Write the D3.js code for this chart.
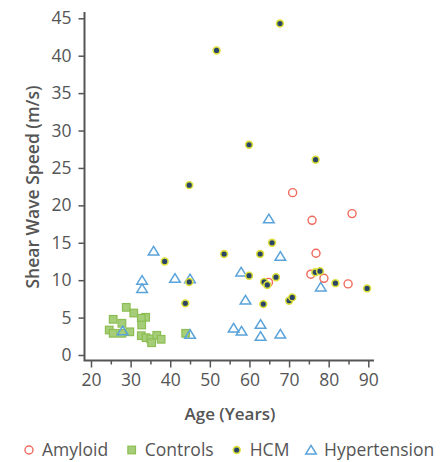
<!DOCTYPE html>
<html>
<head>
<meta charset="utf-8">
<script src="https://cdn.jsdelivr.net/npm/d3@7"></script>
<style>
  body { margin: 0; background: #fff; }
  text { font-family: "Open Sans", sans-serif; fill: #555; }
</style>
</head>
<body>
<svg></svg>
<script>
var width = 448;
var height = 462;

// data: [age, shear wave speed]
var amyloid = [[70.9, 21.7], [75.8, 18.0], [85.9, 18.9], [76.8, 13.6], [64.8, 9.7],
  [75.5, 10.8], [78.8, 10.25], [84.9, 9.5]];
var controls = [[28.9, 6.37], [30.8, 5.61], [33.8, 5.04], [32.7, 4.91], [32.8, 4.01],
  [25.6, 4.77], [27.8, 4.24], [24.6, 3.34], [25.6, 2.9], [27.8, 2.9], [29.8, 3.1],
  [32.7, 2.58], [33.9, 2.31], [35.1, 2.14], [36.6, 2.63], [35.3, 1.64], [37.7, 2.1],
  [43.9, 2.9]];
var hcm = [[67.7, 44.3], [51.7, 40.7], [59.9, 28.1], [76.7, 26.1], [44.8, 22.7],
  [65.7, 15.0], [53.6, 13.5], [62.7, 13.5], [59.9, 10.6], [63.7, 9.76], [64.5, 9.36],
  [66.7, 10.4], [76.6, 11.05], [77.8, 11.2], [81.7, 9.6], [89.7, 8.9], [70.0, 7.26],
  [70.8, 7.7], [63.5, 6.8], [38.6, 12.5], [44.8, 9.76], [43.8, 6.9]];
var hypertension = [[64.9, 18.2], [67.8, 13.2], [57.9, 11.1], [78.0, 9.1], [59.0, 7.35],
  [56.0, 3.6], [58.0, 3.2], [62.8, 4.1], [62.8, 2.5], [67.8, 2.8], [35.8, 13.9],
  [32.9, 10.0], [32.9, 8.9], [41.2, 10.25], [45.0, 10.2], [28.0, 3.25], [45.0, 2.76]];

var xTicks = [20, 30, 40, 50, 60, 70, 80, 90];
var xMinorTicks = [25, 35, 45, 55, 65, 75, 85];
var yTicks = [0, 5, 10, 15, 20, 25, 30, 35, 40, 45];
var groups = ["Amyloid", "Controls", "HCM", "Hypertension"];

var x = d3.scaleLinear().domain([20, 90]).range([91, 368.3]);
var y = d3.scaleLinear().domain([0, 45]).range([355, 18.3]);

var svg = d3.select("svg")
    .attr("width", width)
    .attr("height", height);

// y axis
var yAxis = svg.append("g")
    .attr("transform", "translate(84.5,0)")
    .call(d3.axisLeft(y).tickValues(yTicks).tickSize(6).tickPadding(7));
yAxis.select(".domain").remove();
yAxis.selectAll(".tick line").attr("stroke", "#555").attr("stroke-width", 1.5);
yAxis.selectAll(".tick text").style("font-size", "17.5px").attr("fill", "#555");

// x axis, major and minor ticks
var xAxis = svg.append("g")
    .attr("transform", "translate(0,360.5)")
    .call(d3.axisBottom(x).tickValues(xTicks).tickSize(7).tickPadding(6));
xAxis.select(".domain").remove();
xAxis.selectAll(".tick line").attr("stroke", "#555").attr("stroke-width", 1.5);
xAxis.selectAll(".tick text").style("font-size", "17.5px").attr("fill", "#555");

var xMinor = svg.append("g")
    .attr("transform", "translate(0,360.5)")
    .call(d3.axisBottom(x).tickValues(xMinorTicks).tickSize(4).tickFormat(""));
xMinor.select(".domain").remove();
xMinor.selectAll(".tick line").attr("stroke", "#555").attr("stroke-width", 1.5);

svg.append("path")
    .attr("d", "M84.5,12V360.5H374")
    .attr("fill", "none")
    .attr("stroke", "#555")
    .attr("stroke-width", 2);

// axis titles
svg.append("text")
    .attr("x", 230)
    .attr("y", 420)
    .style("text-anchor", "middle")
    .style("font-size", "17px")
    .style("font-weight", 600)
    .text("Age (Years)");

svg.append("text")
    .attr("transform", "translate(39,187) rotate(-90)")
    .style("text-anchor", "middle")
    .style("font-size", "17.5px")
    .style("font-weight", 600)
    .text("Shear Wave Speed (m/s)");

// marker drawers
var tri = "M0,-4.6L5.3,4L-5.3,4Z";

function drawAmyloid(g) {
  g.append("circle").attr("r", 4)
    .attr("fill", "#fff").attr("stroke", "#f06a5c").attr("stroke-width", 1.4);
}
function drawControl(g) {
  g.append("rect").attr("x", -3.8).attr("y", -3.8).attr("width", 7.6).attr("height", 7.6)
    .attr("fill", "#a6ce78").attr("stroke", "#8cbd52").attr("stroke-width", 1.2);
}
function drawHcm(g) {
  g.append("circle").attr("r", 3.4)
    .attr("fill", "#2b4567").attr("stroke", "#dde03c").attr("stroke-width", 1.6);
}
function drawHyper(g) {
  g.append("path").attr("d", tri)
    .attr("fill", "none").attr("stroke", "#5aa3da").attr("stroke-width", 1.5);
}

function plot(data, cls, draw) {
  svg.append("g").classed(cls, true)
    .selectAll("g")
    .data(data)
    .enter()
    .append("g")
      .attr("transform", d => `translate(${x(d[0])},${y(d[1])})`)
      .each(function() { draw(d3.select(this)); });
}

plot(controls, "controls", drawControl);
plot(hypertension, "hypertension", drawHyper);
plot(amyloid, "amyloid", drawAmyloid);
plot(hcm, "hcm", drawHcm);

// legend
var legendX = [29, 131.7, 236.7, 311];
var drawers = [drawAmyloid, drawControl, drawHcm, drawHyper];
var legend = svg.append("g").classed("legend", true);
groups.forEach(function(name, i) {
  var item = legend.append("g").attr("transform", `translate(${legendX[i]},450)`);
  drawers[i](item);
  item.append("text")
      .attr("x", 13)
      .attr("y", 6)
      .style("font-size", "17.5px")
      .text(name);
});
</script>
</body>
</html>
